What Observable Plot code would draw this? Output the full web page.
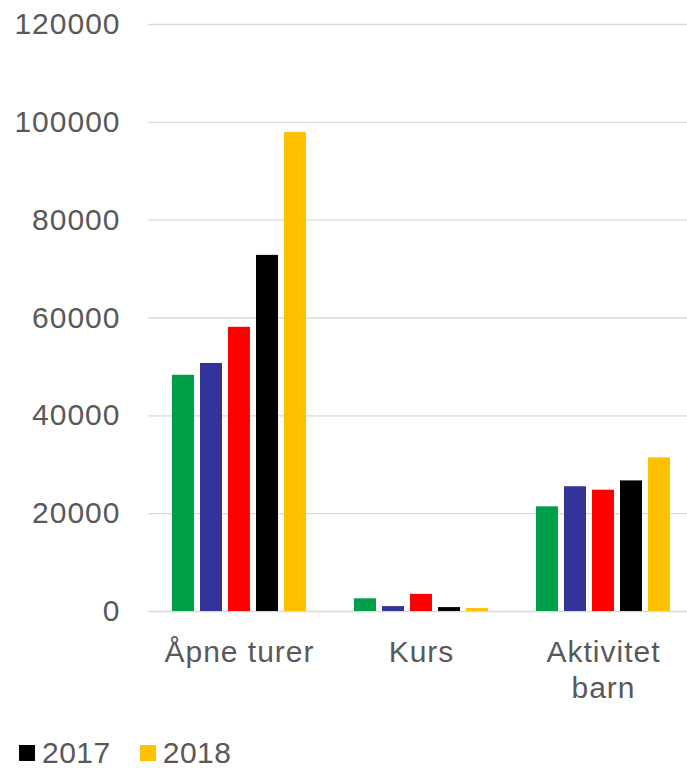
<!DOCTYPE html>
<html>
<head>
<meta charset="utf-8">
<script src="https://cdn.jsdelivr.net/npm/d3@7"></script>
<script src="https://cdn.jsdelivr.net/npm/@observablehq/plot@0.6"></script>
<style>
  body { margin: 0; background: #fff; font-family: "Liberation Sans", Arial, sans-serif; }
  #wrap { position: relative; width: 687px; height: 768px; overflow: hidden; }
  #chart svg text { letter-spacing: 1px; }
  #legend { position: absolute; left: 19px; top: 738px; display: flex; align-items: center;
            font-size: 30px; color: #595959; line-height: 1; letter-spacing: 0.5px; }
  .item { display: flex; align-items: center; margin-right: 29px; }
  .sw { width: 16px; height: 16px; margin-right: 7px; }
</style>
</head>
<body>
<div id="wrap"><div id="chart"></div><div id="legend"></div></div>
<script>
const categories = ["Åpne turer", "Kurs", "Aktivitet barn"];
const categoryLabels = ["Åpne turer", "Kurs", "Aktivitet\nbarn"];
const years = ["2014", "2015", "2016", "2017", "2018"];
const colors = ["#00A04B", "#333399", "#FF0000", "#000000", "#FFC000"];
const v2014 = [48300, 2600, 21400];
const v2015 = [50700, 1000, 25500];
const v2016 = [58100, 3500, 24800];
const v2017 = [72800, 800, 26700];
const v2018 = [97900, 600, 31400];
const yTicks = [0, 20000, 40000, 60000, 80000, 100000, 120000];
const legendYears = ["2017", "2018"];

const series = [v2014, v2015, v2016, v2017, v2018];
const table = [];
categories.forEach((c, ci) => years.forEach((y, yi) => table.push({cat: c, year: y, value: series[yi][ci]})));

const chart = Plot.plot({
  width: 687,
  height: 710,
  marginLeft: 147,
  marginRight: -7,
  marginTop: 24,
  marginBottom: 99,
  style: {fontFamily: "'Liberation Sans', Arial, sans-serif", fontSize: "30px", color: "#595959", background: "#fff", overflow: "hidden"},
  fx: {domain: categories, padding: 0, label: null},
  x: {domain: years, paddingInner: 0.2, paddingOuter: 0.76, axis: null},
  y: {domain: [0, 120000], label: null},
  color: {domain: years, range: colors},
  marks: [
    Plot.ruleY(yTicks, {y: d => d, stroke: "#d9d9d9", strokeWidth: 1.3}),
    Plot.axisY(yTicks, {tickSize: 0, tickPadding: 28, label: null, fontSize: 30, fill: "#595959", tickFormat: d => String(d)}),
    Plot.axisFx({anchor: "bottom", tickSize: 0, tickPadding: 26, label: null, fontSize: 30, fill: "#595959", lineHeight: 1.17,
                 tickFormat: d => categoryLabels[categories.indexOf(d)]}),
    Plot.barY(table, {fx: "cat", x: "year", y: "value", fill: "year"})
  ]
});
document.getElementById("chart").appendChild(chart);

const legend = document.getElementById("legend");
legendYears.forEach(y => {
  const it = document.createElement("div");
  it.className = "item";
  const sw = document.createElement("span");
  sw.className = "sw";
  sw.style.background = colors[years.indexOf(y)];
  const t = document.createElement("span");
  t.textContent = y;
  it.appendChild(sw); it.appendChild(t);
  legend.appendChild(it);
});
</script>
</body>
</html>
